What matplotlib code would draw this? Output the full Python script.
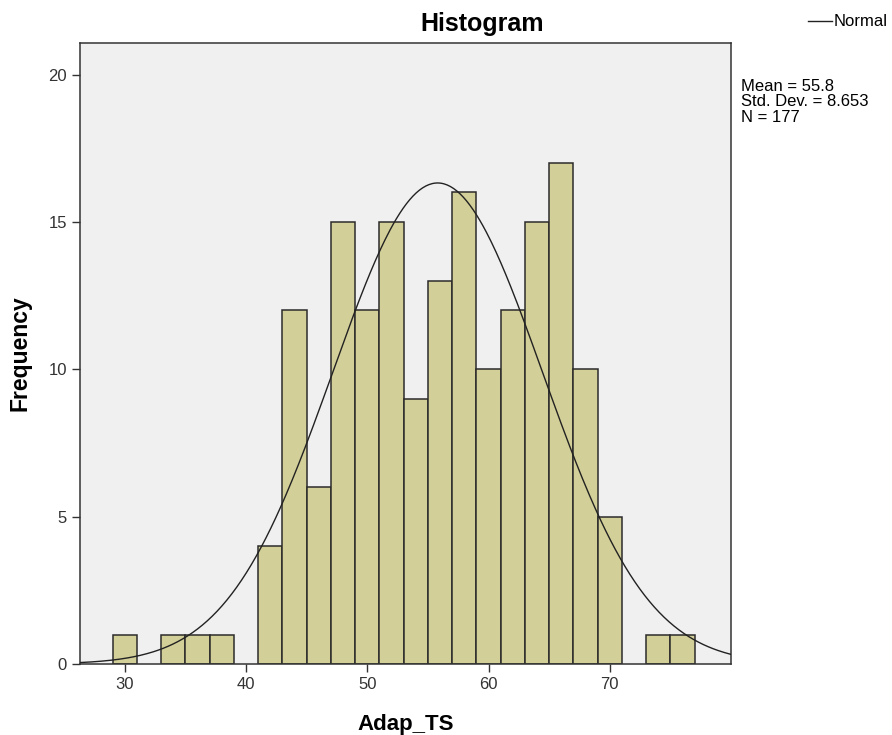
import numpy as np
import matplotlib.pyplot as plt
from matplotlib.lines import Line2D

# Adap_TS histogram, bins of width 2 starting at 29
bin_edges = list(range(29, 78, 2))
counts = [1, 0, 1, 1, 1, 0, 4, 12, 6, 15, 12, 15, 9, 13, 16, 10, 12, 15, 17, 10, 5, 0, 1, 1]
mean_val = 55.8
std_val = 8.653
n_val = 177
x_ticks = [30, 40, 50, 60, 70]
y_ticks = [0, 5, 10, 15, 20]

plt.rcParams['font.family'] = ['Liberation Sans', 'DejaVu Sans']

fig = plt.figure(figsize=(8.92, 7.35), dpi=100)
fig.patch.set_facecolor('white')
ax = fig.add_axes([80 / 892, 71 / 735, 651 / 892, 621 / 735])
ax.set_facecolor('#F0F0F0')

width = 2
lefts = [e for e, c in zip(bin_edges[:-1], counts) if c > 0]
heights = [c for c in counts if c > 0]
ax.bar(lefts, heights, width=width, align='edge', color='#D3CF98',
       edgecolor='#2B2B2B', linewidth=1.1, zorder=2)

# normal curve scaled to counts
xs = np.linspace(26.3, 80, 400)
ys = n_val * width / (std_val * np.sqrt(2 * np.pi)) * np.exp(-0.5 * ((xs - mean_val) / std_val) ** 2)
ax.plot(xs, ys, color='#222222', linewidth=1.0, zorder=3)

ax.set_xlim(26.3, 80)
ax.set_ylim(0, 21.07)
ax.set_xticks(x_ticks)
ax.set_yticks(y_ticks)
ax.tick_params(direction='out', length=6, width=1, colors='#333333', labelsize=12,
               labelcolor='#333333')
for s in ax.spines.values():
    s.set_color('#333333')
    s.set_linewidth(1.1)

ax.set_xlabel('Adap_TS', fontsize=16, fontweight='bold', labelpad=16)
ax.set_ylabel('Frequency', fontsize=16.5, fontweight='bold', labelpad=12)

fig.text(482 / 892, 1 - 24 / 735, 'Histogram', ha='center', va='center',
         fontsize=18, fontweight='bold')

# legend for the normal curve
fig.add_artist(Line2D([808 / 892, 832 / 892], [1 - 21 / 735, 1 - 21 / 735],
                      color='#222222', linewidth=1.0))
fig.text(834 / 892, 1 - 21 / 735, 'Normal', ha='left', va='center', fontsize=12)

fig.text(741 / 892, 1 - 102 / 735,
         f'Mean = {mean_val}\nStd. Dev. = {std_val}\nN = {n_val}',
         ha='left', va='center', fontsize=12, linespacing=1.08)

fig.savefig('out.png', dpi=100)
